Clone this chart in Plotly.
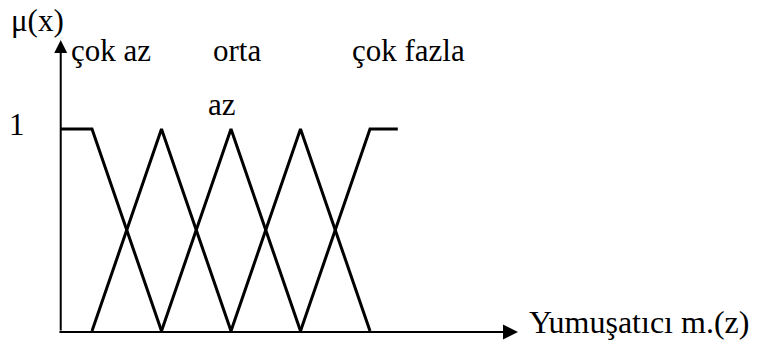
import plotly.graph_objects as go

# Membership function breakpoints (universe units) and membership degrees
cok_az_x = [-0.45, 0, 1]
cok_az_y = [1, 1, 0]
az_x = [0, 1, 2]
az_y = [0, 1, 0]
orta_x = [1, 2, 3]
orta_y = [0, 1, 0]
fazla_x = [2, 3, 4]
fazla_y = [0, 1, 0]
cok_fazla_x = [3, 4, 4.4]
cok_fazla_y = [0, 1, 1]

series = [(cok_az_x, cok_az_y), (az_x, az_y), (orta_x, orta_y),
          (fazla_x, fazla_y), (cok_fazla_x, cok_fazla_y)]

# Labels: text, x, y (data units)
label_texts = ["çok az", "orta", "çok fazla", "az"]
label_x = [0.27, 2.09, 4.56, 1.87]
label_y = [1.39, 1.39, 1.39, 1.12]

x_axis_title = "Yumuşatıcı m.(z)"
y_axis_title = "μ(x)"
y_tick_label = "1"

FONT = "Liberation Serif"
fs = 31

fig = go.Figure()
for xs, ys in series:
    fig.add_trace(go.Scatter(x=xs, y=ys, mode="lines",
                             line=dict(color="black", width=3),
                             showlegend=False, hoverinfo="skip"))

# axes arrows
fig.add_annotation(x=-0.45, y=1.44, ax=-0.45, ay=-0.005, xref="x", yref="y",
                   axref="x", ayref="y", text="", showarrow=True,
                   arrowhead=2, arrowwidth=2, arrowsize=1.3, arrowcolor="black")
fig.add_annotation(x=6.13, y=-0.005, ax=-0.49, ay=-0.005, xref="x", yref="y",
                   axref="x", ayref="y", text="", showarrow=True,
                   arrowhead=2, arrowwidth=2, arrowsize=1.5, arrowcolor="black")

for t, x, y in zip(label_texts, label_x, label_y):
    fig.add_annotation(x=x, y=y, xref="x", yref="y", text=t, showarrow=False,
                       font=dict(family=FONT, size=fs, color="black"),
                       xanchor="center", yanchor="middle")

fig.add_annotation(x=6.26, y=0.045, xref="x", yref="y", text=x_axis_title,
                   showarrow=False, font=dict(family=FONT, size=32, color="black"),
                   xanchor="left", yanchor="middle")
fig.add_annotation(x=-0.79, y=1.535, xref="x", yref="y", text=y_axis_title,
                   showarrow=False, font=dict(family=FONT, size=fs, color="black"),
                   xanchor="center", yanchor="middle")
fig.add_annotation(x=-1.08, y=1.02, xref="x", yref="y", text=y_tick_label,
                   showarrow=False, font=dict(family=FONT, size=fs, color="black"),
                   xanchor="center", yanchor="middle")

fig.update_layout(
    width=759, height=357,
    margin=dict(l=0, r=0, t=0, b=0),
    paper_bgcolor="white", plot_bgcolor="white",
    font=dict(family=FONT, color="black"),
    xaxis=dict(range=[(0 - 92) / 69.5, (759 - 92) / 69.5], visible=False, fixedrange=True),
    yaxis=dict(range=[(331 - 357) / 202, 331 / 202], visible=False, fixedrange=True),
)

fig.write_html("out.html", config={"displayModeBar": False},
               post_script="document.body.style.margin='0';document.body.style.overflow='hidden';")
